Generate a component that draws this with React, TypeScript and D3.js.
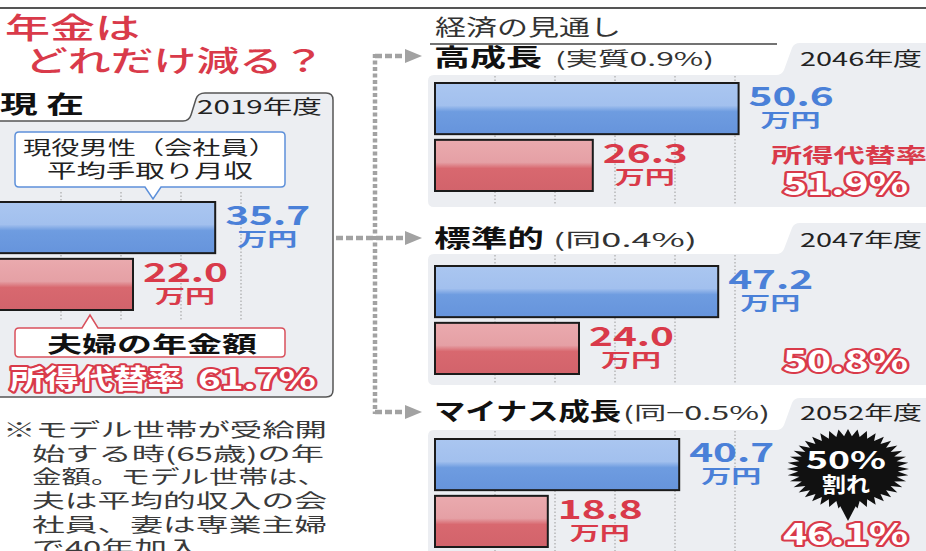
import React from "react";
import * as d3 from "d3";

// ---------- data ----------
const scenarioNames = ["高成長", "標準的", "マイナス成長"];
const growthNotes = ["(実質0.9%)", "(同0.4%)", "(同−0.5%)"];
const targetYears = ["2046年度", "2047年度", "2052年度"];
const incomeValues = [50.6, 47.2, 40.7];
const pensionValues = [26.3, 24.0, 18.8];
const replacementRates = [51.9, 50.8, 46.1];
const currentYear = "2019年度";
const currentIncome = 35.7;
const currentPension = 22.0;
const currentRate = 61.7;
const rightGridTicks = [10, 20, 30, 40, 50];
const leftGridTicks = [10, 20, 30, 40];
const barKeys = ["income", "pension"];
const footnoteLines = [
  "※モデル世帯が受給開",
  "始する時(65歳)の年",
  "金額。モデル世帯は、",
  "夫は平均的収入の会",
  "社員、妻は専業主婦",
  "で40年加入",
];
const unitLabel = "万円";
const rateLabel = "所得代替率";

// ---------- layout ----------
const W = 926;
const H = 551;
const FONT = "'Noto Sans CJK JP', 'Noto Sans CJK SC', sans-serif";
const RED = "#d93a4a";
const BLUE = "#4a80d8";
const PANEL = "#eceef2";

const tabTop = [43, 223, 398];
const headBase = [66, 247, 420];
const bodyTop = [75, 254, 430];
const barTop = [83, 266, 439];
const bodyBottom = [207, 385, 570];
const arrowY = [56, 238, 412];
const ratioBase = [195, 372, 545];
const headW = [108, 110, 187];
const noteX = [555, 553, 623];
const noteW = [159, 144, 147];
const footBase = [437, 461, 484, 508, 532, 555];
const footX = [3, 32, 32, 32, 32, 32];
const footW = [324, 292, 295, 295, 295, 168];

function T(props: any) {
  const { x, y, w, size, weight = 400, fill = "#222", anchor = "start", stroke, sw, children } = props;
  return (
    <text
      x={x}
      y={y}
      fontSize={size}
      fontWeight={weight}
      fill={fill}
      textAnchor={anchor}
      textLength={w}
      lengthAdjust="spacingAndGlyphs"
      stroke={stroke}
      strokeWidth={sw}
      strokeLinejoin="round"
      paintOrder="stroke"
      fontFamily={FONT}
    >
      {children}
    </text>
  );
}

function Outlined(props: any) {
  return <T {...props} weight={700} fill="#fff" stroke={RED} sw={4} />;
}

export default function App() {
  const xRight = d3.scaleLinear().domain([0, 60]).range([435, 795]);
  const xLeft = d3.scaleLinear().domain([0, 60]).range([1, 361]);

  const burst = React.useMemo(() => {
    const n = 40;
    const pts: [number, number][] = d3.range(n * 2).map((i) => [
      (i / (n * 2)) * Math.PI * 2,
      i % 2 === 0 ? 1 : 0.82,
    ]);
    return d3.lineRadial().curve(d3.curveLinearClosed)(pts) || "";
  }, []);

  const fmt = d3.format(".1f");

  const bars = (
    x: d3.ScaleLinear<number, number>,
    top: number,
    values: number[],
    x0: number,
    key: string,
    gridY0: number,
    gridY1: number,
    ticks: number[]
  ) => {
    const y = d3.scaleBand().domain(barKeys).range([top, top + 108]).paddingInner(0.1);
    return (
      <g key={key}>
        {ticks.map((t) => (
          <line
            key={t}
            x1={x(t)}
            x2={x(t)}
            y1={gridY0}
            y2={gridY1}
            stroke="#9a9a9a"
            strokeWidth={1}
            strokeDasharray="1.5 2"
          />
        ))}
        {barKeys.map((k, j) => (
          <g key={k}>
            <rect
              x={x0}
              y={y(k)!}
              width={x(values[j]) - x0}
              height={y.bandwidth()}
              fill={j === 0 ? "url(#gBlue)" : "url(#gRed)"}
              stroke="#1b1b1b"
              strokeWidth={2}
            />
            <T x={x(values[j]) + 10} y={y(k)! + 23} w={85} size={26} weight={700} fill={j === 0 ? BLUE : RED}>
              {fmt(values[j])}
            </T>
            <T x={x(values[j]) + 52} y={y(k)! + 44} w={60} size={18} weight={700} fill={j === 0 ? BLUE : RED} anchor="middle">
              {unitLabel}
            </T>
          </g>
        ))}
      </g>
    );
  };

  const dash = { stroke: "#a2a2a2", strokeWidth: 4.5 };
  const arrow = (y: number, i: number) => (
    <path key={i} d={`M405,${y - 7} L422,${y} L405,${y + 7} Z`} fill="#a2a2a2" />
  );

  return (
    <div style={{ position: "fixed", left: 0, top: 0, width: W, height: H, background: "#fff" }}>
      <svg width={W} height={H} viewBox={`0 0 ${W} ${H}`} style={{ display: "block" }}>
        <defs>
          <linearGradient id="gBlue" x1="0" y1="0" x2="0" y2="1">
            <stop offset="0" stopColor="#aac6f0" />
            <stop offset="0.44" stopColor="#a2c0ee" />
            <stop offset="0.56" stopColor="#6e9ce0" />
            <stop offset="1" stopColor="#6694dc" />
          </linearGradient>
          <linearGradient id="gRed" x1="0" y1="0" x2="0" y2="1">
            <stop offset="0" stopColor="#eaaaae" />
            <stop offset="0.44" stopColor="#e5a0a5" />
            <stop offset="0.56" stopColor="#d8686f" />
            <stop offset="1" stopColor="#d2636b" />
          </linearGradient>
        </defs>

        <line x1={0} x2={W} y1={8} y2={8} stroke="#555" strokeWidth={2} />

        {/* title */}
        <T x={5} y={39} w={135} size={29} weight={500} fill={RED}>年金は</T>
        <T x={25} y={72} w={300} size={29} weight={500} fill={RED}>どれだけ減る？</T>

        {/* left panel */}
        <T x={0} y={113} w={84} size={24} weight={700} fill="#111">現 在</T>
        <path
          d="M-4,121 H183 Q189,121 191,115 L196,99 Q198,93 205,93 H326 Q333,93 333,100 V390 Q333,397 326,397 H-4 Z"
          fill={PANEL}
          stroke="#555"
          strokeWidth={1.5}
        />
        <T x={197} y={114} w={125} size={19} fill="#222">{currentYear}</T>
        {bars(xLeft, 202, [currentIncome, currentPension], -4, "left", 192, 320, leftGridTicks)}
        <path
          d="M19,132 H281 Q285,132 285,136 V183 Q285,187 281,187 H161 L153,199 L145,187 H19 Q15,187 15,183 V136 Q15,132 19,132 Z"
          fill="#fff"
          stroke="#5d90da"
          strokeWidth={1.5}
        />
        <T x={150} y={155} w={254} size={19} anchor="middle" fill="#222">現役男性（会社員）</T>
        <T x={150} y={178} w={206} size={19} anchor="middle" fill="#222">平均手取り月収</T>
        <path
          d="M19,328 H82 L90,315 L98,328 H281 Q285,328 285,332 V353 Q285,357 281,357 H19 Q15,357 15,353 V332 Q15,328 19,328 Z"
          fill="#fff"
          stroke="#d9505c"
          strokeWidth={1.5}
        />
        <T x={152} y={352} w={210} size={22} weight={700} anchor="middle" fill="#111">夫婦の年金額</T>
        <Outlined x={10} y={389} w={172} size={27}>{rateLabel}</Outlined>
        <Outlined x={198} y={389} w={118} size={27}>{fmt(currentRate) + "%"}</Outlined>

        {/* footnote */}
        {footnoteLines.map((l, i) => (
          <T key={i} x={footX[i]} y={footBase[i]} w={footW[i]} size={19} fill="#3a3a3a">{l}</T>
        ))}

        {/* connectors */}
        <line x1={375} x2={375} y1={54} y2={414} {...dash} strokeDasharray="4 2.5" />
        <line x1={375} x2={404} y1={arrowY[0]} y2={arrowY[0]} {...dash} strokeDasharray="7 3" />
        <line x1={336} x2={404} y1={arrowY[1]} y2={arrowY[1]} {...dash} strokeDasharray="7 3" />
        <line x1={375} x2={404} y1={arrowY[2]} y2={arrowY[2]} {...dash} strokeDasharray="7 3" />
        {arrowY.map((y, i) => arrow(y, i))}

        {/* right header */}
        <T x={435} y={35} w={186} size={22} fill="#333">経済の見通し</T>
        <line x1={430} x2={777} y1={44} y2={44} stroke="#444" strokeWidth={1.5} />

        {scenarioNames.map((name, i) => {
          const T0 = tabTop[i];
          const B = bodyTop[i];
          const Bo = bodyBottom[i];
          const L = 428;
          const d = `M${L + 6},${B} H776 Q782,${B} 784,${B - 5} L792,${T0 + 5} Q794,${T0} 800,${T0} H${W + 5} V${Bo} H${L + 6} Q${L},${Bo} ${L},${Bo - 6} V${B + 6} Q${L},${B} ${L + 6},${B} Z`;
          return (
            <g key={name}>
              <path d={d} fill={PANEL} />
              <T x={434} y={headBase[i]} w={headW[i]} size={24} weight={700} fill="#111">{name}</T>
              <T x={noteX[i]} y={headBase[i]} w={noteW[i]} size={19} fill="#333">{growthNotes[i]}</T>
              <T x={800} y={headBase[i]} w={122} size={19} fill="#222">{targetYears[i]}</T>
              {bars(xRight, barTop[i], [incomeValues[i], pensionValues[i]], 435, "r" + i, B + 1, Math.min(Bo - 2, H), rightGridTicks)}
              {i === 0 && (
                <T x={771} y={163} w={156} size={20} weight={700} fill={RED}>{rateLabel}</T>
              )}
              {replacementRates[i] < 50 && (
                <g>
                  <path d={burst} transform="translate(848,469) scale(61,40)" fill="#111" />
                  <path d="M837,500 L859,500 L848,521 Z" fill="#111" />
                  <T x={846} y={469} w={80} size={24} weight={700} fill="#fff" anchor="middle">50%</T>
                  <T x={846} y={492} w={48} size={21} weight={700} fill="#fff" anchor="middle">割れ</T>
                </g>
              )}
              <Outlined x={783} y={ratioBase[i]} w={125} size={30}>{fmt(replacementRates[i]) + "%"}</Outlined>
            </g>
          );
        })}
      </svg>
    </div>
  );
}
